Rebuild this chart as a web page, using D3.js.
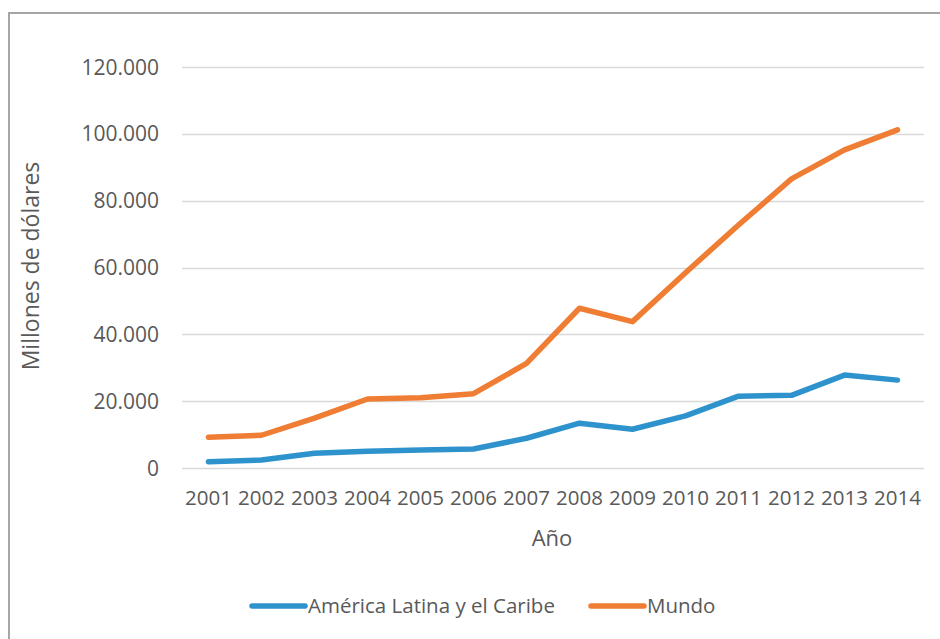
<!DOCTYPE html>
<meta charset="utf-8">
<head>
<style>
  body { margin: 0; background: #fff; }
  svg text { font-family: "Open Sans", sans-serif; fill: #595959; }
</style>
</head>
<body>
<script src="https://cdn.jsdelivr.net/npm/d3@7"></script>
<script>
// data (millones de dólares)
var years = ["2001","2002","2003","2004","2005","2006","2007","2008","2009","2010","2011","2012","2013","2014"];
var americaLatina = [1900, 2400, 4400, 5000, 5400, 5700, 8900, 13400, 11600, 15600, 21500, 21750, 27800, 26300];
var mundo = [9200, 9800, 14900, 20650, 21000, 22250, 31300, 47800, 43800, 58450, 72700, 86500, 95200, 101200];
var yTicks = [0, 20000, 40000, 60000, 80000, 100000, 120000];
var seriesNames = ["América Latina y el Caribe", "Mundo"];
var colors = ["#2e93cc", "#ef7d33"];

var w = 940, h = 639;
var svg = d3.select("body").append("svg").attr("width", w).attr("height", h);

// chart frame
svg.append("rect")
  .attr("x", 9).attr("y", 13)
  .attr("width", 960).attr("height", 660)
  .attr("fill", "none").attr("stroke", "#a6a6a6").attr("stroke-width", 2);

var x = d3.scaleBand().domain(years).range([182, 924]).padding(0);
var y = d3.scaleLinear().domain([0, 120000]).range([468, 67]);

var loc = d3.formatLocale({decimal: ",", thousands: ".", grouping: [3], currency: ["", ""]});
var fmt = loc.format(",.0f");

// grid lines
svg.selectAll(".grid").data(yTicks).enter().append("line")
  .attr("x1", 182).attr("x2", 924)
  .attr("y1", function(d) { return Math.round(y(d)) + 0.5; })
  .attr("y2", function(d) { return Math.round(y(d)) + 0.5; })
  .attr("stroke", "#d9d9d9").attr("stroke-width", 1.5);

// y tick labels
svg.selectAll(".ylab").data(yTicks).enter().append("text")
  .attr("x", 159).attr("y", function(d) { return y(d); })
  .attr("dy", "0.36em")
  .attr("text-anchor", "end")
  .style("font-size", "21px")
  .text(fmt);

// x tick labels
svg.selectAll(".xlab").data(years).enter().append("text")
  .attr("x", function(d) { return x(d) + x.bandwidth() / 2; })
  .attr("y", 505)
  .attr("text-anchor", "middle")
  .style("font-size", "20.5px")
  .text(function(d) { return d; });

// axis titles
svg.append("text")
  .attr("transform", "translate(39,266) rotate(-90)")
  .attr("text-anchor", "middle")
  .style("font-size", "23px")
  .text("Millones de dólares");

svg.append("text")
  .attr("x", 552).attr("y", 546)
  .attr("text-anchor", "middle")
  .style("font-size", "22px")
  .text("Año");

// lines
var line = d3.line()
  .x(function(d, i) { return x(years[i]) + x.bandwidth() / 2; })
  .y(function(d) { return y(d); });

[americaLatina, mundo].forEach(function(s, i) {
  svg.append("path")
    .datum(s)
    .attr("d", line)
    .attr("fill", "none")
    .attr("stroke", colors[i])
    .attr("stroke-width", 5.5)
    .attr("stroke-linecap", "round")
    .attr("stroke-linejoin", "round");
});

// legend
var legendX = [252, 591];
seriesNames.forEach(function(name, i) {
  var g = svg.append("g").attr("transform", "translate(" + legendX[i] + ",606)");
  g.append("line").attr("x1", 0).attr("x2", 53).attr("y1", 0).attr("y2", 0)
    .attr("stroke", colors[i]).attr("stroke-width", 5.5).attr("stroke-linecap", "round");
  g.append("text").attr("x", 56).attr("dy", "0.36em")
    .style("font-size", "20.5px")
    .text(name);
});
</script>
</body>
